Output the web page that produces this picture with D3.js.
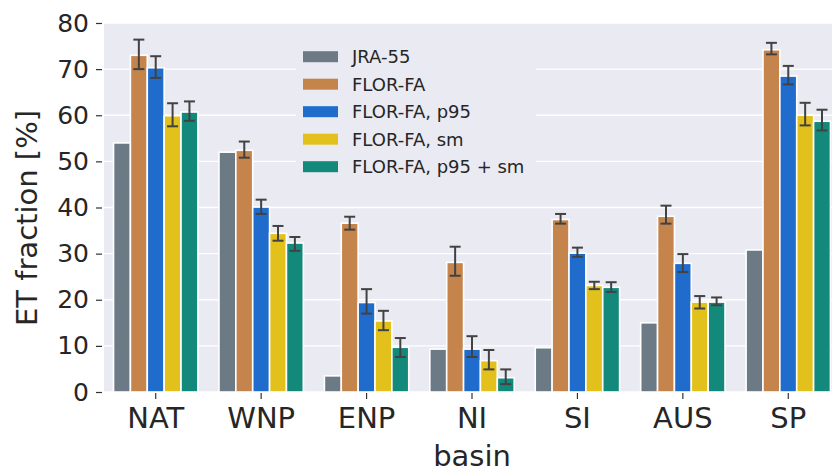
<!DOCTYPE html>
<html>
<head>
<meta charset="utf-8">
<script src="https://cdn.jsdelivr.net/npm/d3@7/dist/d3.min.js"></script>
<style>
  html, body { margin: 0; padding: 0; background: #ffffff; }
  svg { display: block; font-family: "DejaVu Sans", sans-serif; }
</style>
</head>
<body>
<svg id="chart" width="832" height="474"></svg>
<script>
// Basins on the x axis
const categories = ["NAT", "WNP", "ENP", "NI", "SI", "AUS", "SP"];
const seriesNames = ["JRA-55", "FLOR-FA", "FLOR-FA, p95", "FLOR-FA, sm", "FLOR-FA, p95 + sm"];
const seriesColors = ["#6c7a86", "#c4844c", "#1f6ccc", "#e3c11c", "#13897c"];
const yTicks = [0, 10, 20, 30, 40, 50, 60, 70, 80];

// ET fraction [%] per basin, one array per series
const jra55       = [54.0, 52.0, 3.5, 9.3, 9.6, 15.0, 30.8];
const florFa      = [73.0, 52.4, 36.6, 28.1, 37.4, 38.1, 74.2];
const florFaP95   = [70.3, 40.1, 19.4, 9.3, 30.1, 27.9, 68.5];
const florFaSm    = [59.9, 34.4, 15.4, 6.8, 23.1, 19.5, 60.0];
const florFaP95Sm = [60.7, 32.3, 9.7, 3.1, 22.7, 19.5, 58.7];

// Error bar bounds (low / high) for the model series
const florFaLo      = [70.0, 50.8, 35.2, 25.2, 36.5, 36.5, 73.2];
const florFaHi      = [76.4, 54.3, 38.0, 31.5, 38.6, 40.4, 75.7];
const florFaP95Lo   = [68.1, 38.6, 17.0, 7.6, 29.3, 26.0, 66.7];
const florFaP95Hi   = [72.8, 41.7, 22.3, 12.1, 31.3, 29.9, 70.7];
const florFaSmLo    = [57.6, 32.8, 13.4, 4.9, 22.3, 18.1, 57.8];
const florFaSmHi    = [62.6, 36.0, 17.6, 9.1, 23.9, 20.8, 62.7];
const florFaP95SmLo = [58.8, 30.6, 7.6, 1.7, 21.7, 18.8, 56.7];
const florFaP95SmHi = [63.0, 33.6, 11.7, 4.9, 23.8, 20.5, 61.2];

const values = [jra55, florFa, florFaP95, florFaSm, florFaP95Sm];
const lows  = [null, florFaLo, florFaP95Lo, florFaSmLo, florFaP95SmLo];
const highs = [null, florFaHi, florFaP95Hi, florFaSmHi, florFaP95SmHi];

const rows = [];
categories.forEach((c, ci) => {
  seriesNames.forEach((s, si) => {
    rows.push({
      cat: c, series: s, si,
      value: values[si][ci],
      lo: lows[si] ? lows[si][ci] : null,
      hi: highs[si] ? highs[si][ci] : null
    });
  });
});

const svg = d3.select("#chart");
const plotLeft = 104, plotRight = 832, plotTop = 23, plotBottom = 392;

const x = d3.scaleBand().domain(categories).range([103, 841]).paddingInner(0).paddingOuter(0);
const xInner = d3.scaleBand().domain(seriesNames)
  .range([x.bandwidth() * 0.1, x.bandwidth() * 0.9]).padding(0);
const y = d3.scaleLinear().domain([0, 80]).range([plotBottom, plotTop]);
const color = d3.scaleOrdinal().domain(seriesNames).range(seriesColors);

// Plot background
svg.append("rect")
  .attr("x", plotLeft).attr("y", plotTop)
  .attr("width", plotRight - plotLeft).attr("height", plotBottom - plotTop)
  .attr("fill", "#eaeaf2");

// Horizontal grid
svg.append("g").selectAll("line").data(yTicks).join("line")
  .attr("x1", plotLeft).attr("x2", plotRight)
  .attr("y1", d => y(d)).attr("y2", d => y(d))
  .attr("stroke", "#ffffff").attr("stroke-width", 1.3);

// Y axis
const yAxis = svg.append("g")
  .attr("transform", `translate(${plotLeft - 2},0)`)
  .call(d3.axisLeft(y).tickValues(yTicks).tickSize(6).tickPadding(7));
yAxis.select(".domain").remove();
yAxis.selectAll(".tick line").attr("stroke", "#333333").attr("stroke-width", 1.2);
yAxis.selectAll(".tick text")
  .attr("fill", "#262626").attr("font-size", 25).attr("font-family", "DejaVu Sans");

// X axis
const xAxis = svg.append("g")
  .attr("transform", `translate(0,${plotBottom + 1})`)
  .call(d3.axisBottom(x).tickSize(6).tickPadding(8));
xAxis.select(".domain").remove();
xAxis.selectAll(".tick line").attr("stroke", "#333333").attr("stroke-width", 1.2);
xAxis.selectAll(".tick text")
  .attr("fill", "#262626").attr("font-size", 29).attr("font-family", "DejaVu Sans");

// Bars
const bars = svg.append("g");
bars.selectAll("rect").data(rows).join("rect")
  .attr("x", d => x(d.cat) + xInner(d.series))
  .attr("width", xInner.bandwidth())
  .attr("y", d => y(d.value))
  .attr("height", d => y(0) - y(d.value))
  .attr("fill", d => color(d.series))
  .attr("stroke", "#ffffff").attr("stroke-width", 1.6);

// Error bars
const errRows = rows.filter(d => d.lo !== null);
const eb = svg.append("g").attr("stroke", "#424242").attr("stroke-width", 2).attr("fill", "none");
const cx = d => x(d.cat) + xInner(d.series) + xInner.bandwidth() / 2;
const cap = 5.5;
eb.selectAll("line.v").data(errRows).join("line").attr("class", "v")
  .attr("x1", cx).attr("x2", cx)
  .attr("y1", d => y(d.lo)).attr("y2", d => y(d.hi));
eb.selectAll("line.t").data(errRows).join("line").attr("class", "t")
  .attr("x1", d => cx(d) - cap).attr("x2", d => cx(d) + cap)
  .attr("y1", d => y(d.hi)).attr("y2", d => y(d.hi));
eb.selectAll("line.b").data(errRows).join("line").attr("class", "b")
  .attr("x1", d => cx(d) - cap).attr("x2", d => cx(d) + cap)
  .attr("y1", d => y(d.lo)).attr("y2", d => y(d.lo));

// Axis titles
svg.append("text")
  .attr("transform", "translate(37,218) rotate(-90)")
  .attr("text-anchor", "middle")
  .attr("font-size", 29).attr("fill", "#262626")
  .text("ET fraction [%]");
svg.append("text")
  .attr("x", 472).attr("y", 466)
  .attr("text-anchor", "middle")
  .attr("font-size", 29).attr("fill", "#262626")
  .text("basin");

// Legend
const legend = svg.append("g");
legend.append("rect")
  .attr("x", 296).attr("y", 38).attr("width", 240).attr("height", 144)
  .attr("fill", "#eaeaf2");
const rowY = d3.scalePoint().domain(seriesNames).range([56.7, 166.7]);
const items = legend.selectAll("g.item").data(seriesNames).join("g").attr("class", "item")
  .attr("transform", d => `translate(0,${rowY(d)})`);
items.append("rect")
  .attr("x", 303).attr("y", -5.5).attr("width", 35).attr("height", 11)
  .attr("fill", d => color(d));
items.append("text")
  .attr("x", 352).attr("y", 6.5)
  .attr("font-size", 18).attr("fill", "#262626")
  .text(d => d);
</script>
</body>
</html>
